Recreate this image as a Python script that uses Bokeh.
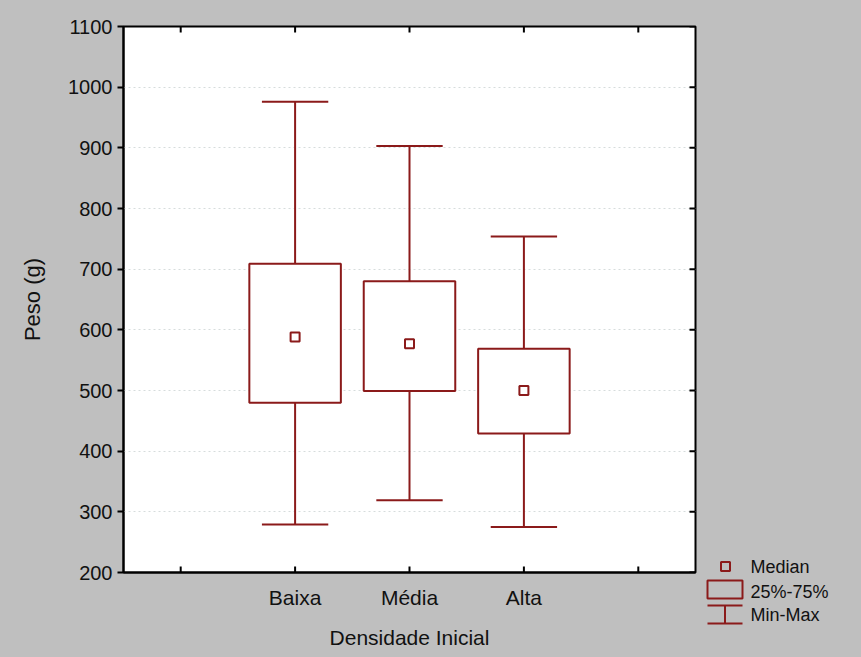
from bokeh.plotting import figure
from bokeh.models import FixedTicker, Range1d
from bokeh.layouts import row, column
from bokeh.core.properties import value
from bokeh.embed import file_html
from bokeh.resources import INLINE

# ---- data ----
categories = ["Baixa", "Média", "Alta"]
x_tick_labels = ["", "Baixa", "Média", "Alta", ""]
mins = [279, 319, 275]
q1 = [480, 499, 429]
medians = [588, 577, 500]
q3 = [709, 680, 569]
maxs = [976, 903, 754]
y_ticks = [200, 300, 400, 500, 600, 700, 800, 900, 1000, 1100]
legend_labels = ["Median", "25%-75%", "Min-Max"]
x_title = "Densidade Inicial"
y_title = "Peso (g)"

# ---- styles ----
RED = "#8b1a1a"
GRAY = "#bfbfbf"
FONT = "Liberation Sans"
BOX_W = 0.8
CAP_W = 0.58
H = 657
PW = 700          # main panel width
LW = 161          # legend panel width
ML, MR, MT, MB = 123, 5, 26, 85
TICK_PX = 6

x_ticks = list(range(1, len(x_tick_labels) + 1))
pos = [x_tick_labels.index(c) + 1 for c in categories]
x0, x1 = 0.5, len(x_tick_labels) + 0.5
y0, y1 = y_ticks[0], y_ticks[-1]
tick_dx = TICK_PX * (x1 - x0) / (PW - ML - MR)
tick_dy = TICK_PX * (y1 - y0) / (H - MT - MB)

p = figure(width=PW, height=H,
           x_range=Range1d(x0, x1), y_range=Range1d(y0, y1),
           output_backend="svg", toolbar_location=None,
           min_border_left=ML, min_border_right=MR,
           min_border_top=MT, min_border_bottom=MB,
           background_fill_color="white", border_fill_color=GRAY,
           outline_line_color="black", outline_line_width=2)

# grid
p.xgrid.visible = False
p.ygrid.ticker = FixedTicker(ticks=y_ticks[1:-1])
p.ygrid.grid_line_color = "#d6dcdc"
p.ygrid.grid_line_dash = "2 3"
p.ygrid.grid_line_width = 1

# bottom axis (labels only; inside ticks are drawn below)
xa = p.xaxis[0]
xa.ticker = FixedTicker(ticks=pos)
xa.major_label_overrides = {x: c for x, c in zip(pos, categories)}
xa.major_tick_line_color = None
xa.major_tick_in = 0
xa.major_tick_out = 0
xa.axis_line_width = 2
xa.minor_tick_line_color = None
xa.major_label_text_font = FONT
xa.major_label_text_font_size = "21px"
xa.major_label_text_color = "#111111"
xa.major_label_standoff = 13
xa.axis_label = x_title
xa.axis_label_text_font = FONT
xa.axis_label_text_font_size = "21px"
xa.axis_label_text_font_style = "normal"
xa.axis_label_text_color = "#111111"
xa.axis_label_standoff = 14

# left axis
ya = p.yaxis[0]
ya.ticker = FixedTicker(ticks=y_ticks)
ya.major_tick_in = 0
ya.major_tick_out = TICK_PX
ya.major_tick_line_width = 2
ya.axis_line_width = 2
ya.minor_tick_line_color = None
ya.major_label_text_font = FONT
ya.major_label_text_font_size = "20px"
ya.major_label_text_color = "#111111"
ya.major_label_standoff = 5
ya.axis_label = y_title
ya.axis_label_text_font = FONT
ya.axis_label_text_font_size = "22px"
ya.axis_label_text_font_style = "normal"
ya.axis_label_text_color = "#111111"
ya.axis_label_standoff = 20

# inside ticks on bottom, top and right edges
p.segment(x0=x_ticks, x1=x_ticks, y0=[y0] * len(x_ticks), y1=[y0 + tick_dy] * len(x_ticks),
          line_color="black", line_width=2)
p.segment(x0=x_ticks, x1=x_ticks, y0=[y1] * len(x_ticks), y1=[y1 - tick_dy] * len(x_ticks),
          line_color="black", line_width=2)
p.segment(x0=[x1] * len(y_ticks), x1=[x1 - tick_dx] * len(y_ticks), y0=y_ticks, y1=y_ticks,
          line_color="black", line_width=2)

# whiskers
p.segment(x0=pos, x1=pos, y0=q3, y1=maxs, line_color=RED, line_width=2)
p.segment(x0=pos, x1=pos, y0=q1, y1=mins, line_color=RED, line_width=2)
p.segment(x0=[x - CAP_W / 2 for x in pos], x1=[x + CAP_W / 2 for x in pos],
          y0=maxs, y1=maxs, line_color=RED, line_width=2)
p.segment(x0=[x - CAP_W / 2 for x in pos], x1=[x + CAP_W / 2 for x in pos],
          y0=mins, y1=mins, line_color=RED, line_width=2)
# boxes
p.vbar(x=pos, width=BOX_W, bottom=q1, top=q3, fill_color="white",
       line_color=RED, line_width=2)
# medians
p.scatter(x=pos, y=medians, marker="square", size=9, fill_color="white",
          line_color=RED, line_width=2)

# ---- legend panel (pixel coordinates, y measured up from the bottom) ----
lf = figure(width=LW, height=H, x_range=Range1d(0, LW), y_range=Range1d(0, H),
            output_backend="svg", toolbar_location=None, min_border=0,
            x_axis_type=None, y_axis_type=None,
            background_fill_color=GRAY, border_fill_color=GRAY,
            outline_line_color=None)
lf.grid.visible = False
lf.scatter(x=[25], y=[H - 566], marker="square", size=9, fill_color=None,
           line_color=RED, line_width=2)
lf.quad(left=[7], right=[42], bottom=[H - 598], top=[H - 580], fill_color=None,
        line_color=RED, line_width=2)
lf.segment(x0=[7, 7, 24.5], x1=[42, 42, 24.5],
           y0=[H - 605, H - 623, H - 605], y1=[H - 605, H - 623, H - 623],
           line_color=RED, line_width=2)
lf.text(x=[50, 50, 50], y=[H - 566, H - 591, H - 614], text=legend_labels,
        text_font=value(FONT), text_font_size="18px", text_baseline="middle",
        text_color="#111111")

layout = row(p, column(lf, styles={"background-color": GRAY}),
             styles={"background-color": GRAY})
open("out.html", "w").write(file_html(layout, INLINE))
